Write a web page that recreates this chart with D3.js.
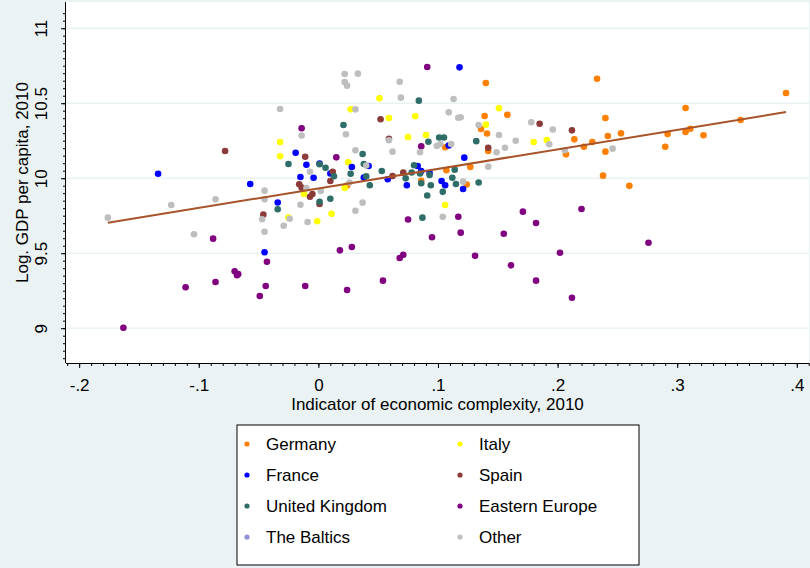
<!DOCTYPE html>
<html>
<head>
<meta charset="utf-8">
<script src="https://cdn.jsdelivr.net/npm/d3@7"></script>
<style>
  body { margin: 0; background: #eaf2f3; }
  svg { display: block; font-family: "Liberation Sans", Arial, sans-serif; }
</style>
</head>
<body>
<div id="chart"></div>
<script>
// points, [complexity, log gdp]
var germany = [[0.024,9.951],[0.106,10.206],[0.107,10.053],[0.086,9.983],[0.124,9.958],[0.127,10.075],
  [0.142,10.181],[0.136,10.328],[0.141,10.298],[0.139,10.415],[0.158,10.423],[0.140,10.635],[0.233,10.663],
  [0.240,10.401],[0.214,10.259],[0.242,10.281],[0.253,10.299],[0.222,10.210],[0.229,10.241],[0.240,10.177],
  [0.207,10.159],[0.238,10.017],[0.260,9.949],[0.391,10.568],[0.307,10.468],[0.353,10.388],[0.311,10.330],
  [0.307,10.308],[0.292,10.295],[0.322,10.286],[0.290,10.210]];
var italy = [[0.051,10.533],[0.027,10.459],[0.059,10.401],[0.081,10.413],[0.075,10.275],[0.090,10.288],
  [-0.032,10.241],[-0.032,10.146],[0.025,10.106],[0.022,9.935],[-0.012,9.895],[0.011,9.763],[-0.025,9.737],
  [-0.001,9.713],[0.106,9.821],[0.151,10.466],[0.140,10.357],[0.180,10.241],[0.191,10.255]];
var france = [[-0.134,10.030],[-0.057,9.961],[-0.045,9.506],[-0.034,9.838],[-0.019,10.170],[-0.010,10.090],
  [0.001,10.097],[0.028,10.075],[0.042,10.081],[0.010,10.031],[-0.015,10.008],[-0.004,10.003],[0.038,10.005],
  [0.058,9.993],[0.074,9.953],[0.083,10.081],[0.086,10.048],[0.093,10.035],[0.103,9.981],[0.106,9.953],
  [0.109,10.218],[0.122,10.137],[0.121,9.928],[0.118,10.739]];
var spain = [[-0.078,10.181],[0.052,10.393],[0.059,10.263],[-0.011,10.143],[0.012,10.043],[0.010,9.981],
  [0.062,10.015],[0.071,10.037],[-0.016,9.959],[-0.014,9.937],[-0.005,9.895],[-0.007,9.876],[0.001,9.828],
  [-0.046,9.757],[0.142,10.203],[0.185,10.363],[0.212,10.319]];
var uk = [[0.084,10.517],[0.021,10.355],[0.092,10.243],[0.101,10.271],[0.105,10.271],[0.037,10.161],
  [-0.025,10.095],[0.001,10.093],[0.006,10.070],[0.038,10.095],[0.053,10.048],[0.080,10.086],[0.013,10.013],
  [0.027,10.030],[0.040,10.013],[0.043,9.953],[0.078,10.038],[0.073,9.999],[0.085,10.031],[0.093,10.021],
  [0.086,9.966],[0.094,9.953],[0.114,10.057],[0.112,10.003],[0.115,9.961],[0.134,9.971],[0.104,9.909],
  [0.091,9.885],[0.087,9.737],[0.132,10.247],[0.001,9.843],[0.010,9.863],[-0.034,9.793]];
var eastEurope = [[0.091,10.741],[-0.014,10.333],[0.015,10.139],[0.086,10.213],[0.075,9.725],[0.095,9.606],
  [0.018,9.519],[0.028,9.541],[-0.043,9.443],[0.068,9.468],[0.071,9.490],[-0.044,9.281],[-0.011,9.281],
  [-0.049,9.215],[0.024,9.255],[0.054,9.317],[-0.088,9.597],[-0.070,9.379],[-0.067,9.361],[-0.068,9.353],
  [-0.111,9.273],[-0.086,9.308],[-0.163,9.003],[0.117,9.743],[0.119,9.637],[0.171,9.777],[0.182,9.701],
  [0.155,9.630],[0.220,9.795],[0.131,9.483],[0.161,9.419],[0.202,9.503],[0.182,9.317],[0.212,9.203],
  [0.276,9.570]];
var baltics = [];
var other = [[0.022,10.695],[0.033,10.697],[0.022,10.641],[0.024,10.617],[0.068,10.643],[0.069,10.537],
  [-0.032,10.461],[0.031,10.459],[-0.014,10.285],[0.023,10.293],[0.059,10.253],[0.031,10.186],[0.062,10.177],
  [0.085,10.173],[0.099,10.215],[0.102,10.228],[0.111,10.228],[-0.007,10.043],[0.040,10.085],[0.026,9.971],
  [-0.010,9.935],[0.002,9.915],[-0.015,9.823],[0.037,9.837],[0.031,9.783],[-0.024,9.730],[-0.009,9.708],
  [-0.029,9.683],[-0.045,9.917],[-0.045,9.859],[-0.047,9.726],[-0.045,9.643],[-0.176,9.737],[-0.123,9.821],
  [-0.086,9.859],[-0.104,9.626],[0.104,9.743],[0.121,9.977],[0.113,10.528],[0.109,10.439],[0.117,10.403],
  [0.119,10.406],[0.134,10.355],[0.151,10.288],[0.178,10.373],[0.196,10.325],[0.165,10.250],[0.193,10.226],
  [0.156,10.203],[0.149,10.173],[0.142,10.077],[0.206,10.186],[0.246,10.197]];

var groupNames = ["Germany", "Italy", "France", "Spain", "United Kingdom", "Eastern Europe", "The Baltics", "Other"];
var groupData = [germany, italy, france, spain, uk, eastEurope, baltics, other];
var groupColors = ["#ff7f00", "#ffff00", "#0000ff", "#8c3a3a", "#2f6e68", "#800080", "#8f8fd8", "#bebebe"];

// fitted line
var fitX = [-0.176, 0.391];
var fitIntercept = 9.932, fitSlope = 1.302;

var xTicks = [-0.2, -0.1, 0, 0.1, 0.2, 0.3, 0.4];
var xTickLabels = ["-.2", "-.1", "0", ".1", ".2", ".3", ".4"];
var yTicks = [9, 9.5, 10, 10.5, 11];
var yTickLabels = ["9", "9.5", "10", "10.5", "11"];

var W = 810, H = 568;
var plot = {left: 66, right: 809, top: 2, bottom: 363};
var fontSize = "17px";

var svg = d3.select("#chart").append("svg")
  .attr("width", W).attr("height", H);

svg.append("rect").attr("width", W).attr("height", H).attr("fill", "#eaf2f3");
svg.append("rect")
  .attr("x", plot.left).attr("y", plot.top)
  .attr("width", plot.right - plot.left).attr("height", plot.bottom - plot.top)
  .attr("fill", "white");

var x = d3.scaleLinear().domain([-0.211, 0.4102]).range([plot.left, plot.right]);
var y = d3.scaleLinear().domain([8.768, 11.1747]).range([plot.bottom, plot.top]);

// grid
svg.append("g").selectAll("line")
  .data(yTicks).enter().append("line")
  .attr("x1", plot.left).attr("x2", plot.right)
  .attr("y1", function(d) { return y(d); }).attr("y2", function(d) { return y(d); })
  .attr("stroke", "#eaf2f3").attr("stroke-width", 1.5);

// minor ticks
var xMinor = d3.range(-21, 42).map(function(i) { return i / 100; });
var yMinor = d3.range(176, 223).map(function(i) { return i / 20; });

var xAxisG = svg.append("g").attr("transform", "translate(0," + plot.bottom + ")");
xAxisG.call(d3.axisBottom(x).tickValues(xMinor).tickSize(3).tickSizeOuter(0).tickFormat(""));
xAxisG.append("g").call(d3.axisBottom(x).tickValues(xTicks).tickSize(5).tickSizeOuter(0)
  .tickFormat(function(d, i) { return xTickLabels[i]; }));
xAxisG.selectAll("text").attr("y", 16).attr("fill", "#000")
  .style("font-size", fontSize).style("font-family", "'Liberation Sans', Arial, sans-serif");
xAxisG.selectAll(".domain").attr("stroke", "#000").attr("d", "M" + plot.left + ",0.5H" + plot.right);
xAxisG.selectAll("line").attr("stroke", "#000");

var yAxisG = svg.append("g").attr("transform", "translate(" + plot.left + ",0)");
yAxisG.call(d3.axisLeft(y).tickValues(yMinor).tickSize(3).tickSizeOuter(0).tickFormat(""));
yAxisG.append("g").call(d3.axisLeft(y).tickValues(yTicks).tickSize(5).tickSizeOuter(0)
  .tickFormat(function(d, i) { return yTickLabels[i]; }));
yAxisG.selectAll(".domain").attr("stroke", "#000").attr("d", "M-0.5," + plot.top + "V" + plot.bottom);
yAxisG.selectAll("line").attr("stroke", "#000");
yAxisG.selectAll("text")
  .attr("transform", "rotate(-90)")
  .attr("x", 0).attr("y", -19).attr("dy", 0)
  .attr("text-anchor", "middle").attr("fill", "#000")
  .style("font-size", fontSize).style("font-family", "'Liberation Sans', Arial, sans-serif");

// axis titles
svg.append("text")
  .attr("x", (plot.left + plot.right) / 2).attr("y", 410)
  .attr("text-anchor", "middle").style("font-size", fontSize)
  .text("Indicator of economic complexity, 2010");
svg.append("text")
  .attr("transform", "translate(28," + ((plot.top + plot.bottom) / 2) + ") rotate(-90)")
  .attr("text-anchor", "middle").style("font-size", fontSize)
  .text("Log. GDP per capita, 2010");

// points
for (var g = 0; g < groupData.length; g++) {
  svg.append("g").selectAll("circle")
    .data(groupData[g]).enter().append("circle")
    .attr("cx", function(d) { return x(d[0]); })
    .attr("cy", function(d) { return y(d[1]); })
    .attr("r", 3.3)
    .attr("fill", groupColors[g]);
}

// fit line
svg.append("line")
  .attr("x1", x(fitX[0])).attr("y1", y(fitIntercept + fitSlope * fitX[0]))
  .attr("x2", x(fitX[1])).attr("y2", y(fitIntercept + fitSlope * fitX[1]))
  .attr("stroke", "#a8542a").attr("stroke-width", 2);

// legend, two columns filled row by row
var legend = svg.append("g");
legend.append("rect")
  .attr("x", 237).attr("y", 425).attr("width", 402).attr("height", 140)
  .attr("fill", "white").attr("stroke", "#000").attr("stroke-width", 1);
var colX = [247, 460], rowY = [444, 475, 506, 537];
groupNames.forEach(function(name, i) {
  var cx = colX[i % 2], cy = rowY[Math.floor(i / 2)];
  legend.append("circle").attr("cx", cx).attr("cy", cy).attr("r", 2.6).attr("fill", groupColors[i]);
  legend.append("text").attr("x", cx + 19).attr("y", cy).attr("dy", "0.35em")
    .style("font-size", fontSize).text(name);
});
</script>
</body>
</html>
